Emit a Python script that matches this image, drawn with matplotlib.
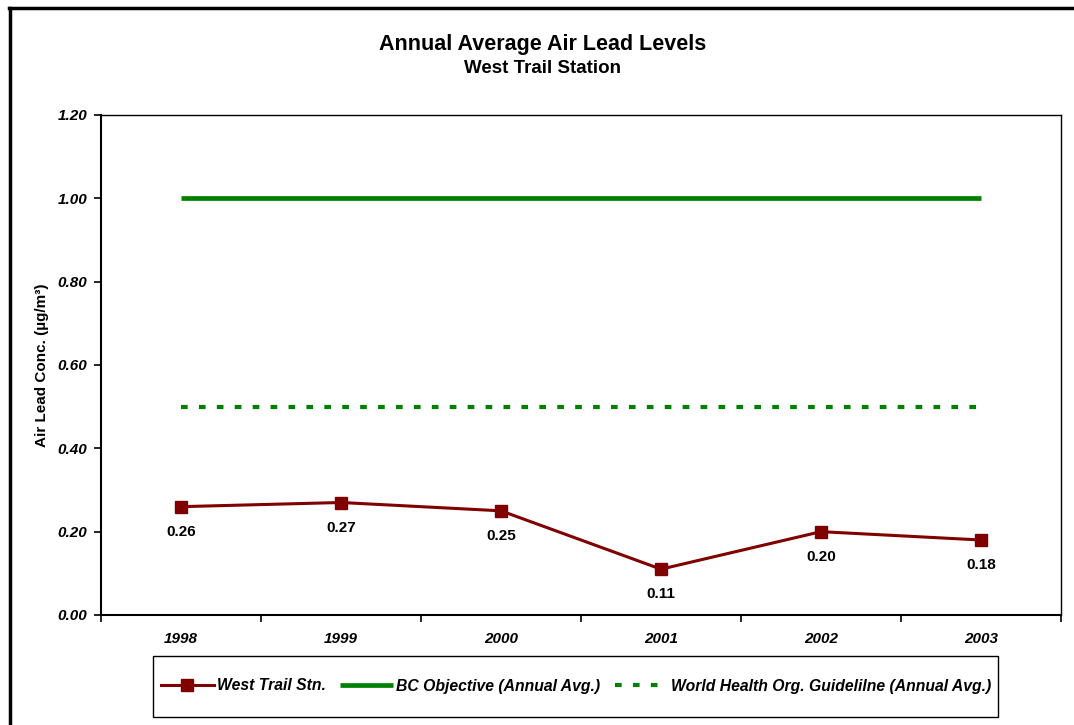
import matplotlib.pyplot as plt
from matplotlib.lines import Line2D
from matplotlib.patches import Rectangle

plt.rcParams['font.family'] = ['Liberation Sans', 'DejaVu Sans']

years = ['1998', '1999', '2000', '2001', '2002', '2003']
west_trail = [0.26, 0.27, 0.25, 0.11, 0.20, 0.18]
bc_objective = [1.00, 1.00, 1.00, 1.00, 1.00, 1.00]
who_guideline = [0.50, 0.50, 0.50, 0.50, 0.50, 0.50]
y_ticks = [0.00, 0.20, 0.40, 0.60, 0.80, 1.00, 1.20]

W, H = 1074, 725
fig = plt.figure(figsize=(W / 100, H / 100), dpi=100)
ax = fig.add_axes([101 / W, 1 - 615 / H, 960 / W, 500 / H])

x = list(range(1, len(years) + 1))
ln1, = ax.plot(x, west_trail, color='#800000', lw=2.2, marker='s', ms=8.5,
               label='West Trail Stn.')
ln2, = ax.plot(x, bc_objective, color='#008000', lw=3.4, solid_capstyle='butt',
               label='BC Objective (Annual Avg.)')
ln3, = ax.plot(x, who_guideline, color='#008000', lw=3, linestyle=(0, (1.6, 2.7)),
               label='World Health Org. Guidelilne (Annual Avg.)')

# value labels under each point
for xi, v in zip(x, west_trail):
    ax.annotate(f'{v:.2f}', (xi, v), xytext=(0, -18), textcoords='offset points',
                ha='center', va='center', fontsize=11, fontweight='bold')

ax.set_xlim(0.5, len(years) + 0.5)
ax.set_ylim(0, 1.2)
ax.set_yticks(y_ticks)
ax.set_yticklabels([f'{t:.2f}' for t in y_ticks], fontsize=11,
                   fontweight='bold', fontstyle='italic')
ax.set_xticks([i + 0.5 for i in range(len(years) + 1)])
ax.set_xticklabels([])
ax.set_xticks(x, minor=True)
ax.set_xticklabels(years, minor=True, fontsize=11, fontweight='bold',
                   fontstyle='italic')
ax.tick_params(axis='x', which='minor', length=0, pad=12)
ax.tick_params(axis='x', which='major', length=5, width=1.2, direction='out')
ax.tick_params(axis='y', length=5, width=1.2, direction='out', pad=5)

for side in ['left', 'bottom']:
    ax.spines[side].set_linewidth(1.5)
for side in ['top', 'right']:
    ax.spines[side].set_linewidth(1.0)

ax.set_ylabel('Air Lead Conc. (µg/m³)', fontsize=11, fontweight='bold',
              labelpad=6)

fig.text(543 / W, 1 - 50 / H, 'Annual Average Air Lead Levels',
         ha='center', va='baseline', fontsize=15.5, fontweight='bold')
fig.text(543 / W, 1 - 73 / H, 'West Trail Station',
         ha='center', va='baseline', fontsize=13.5, fontweight='bold')

# legend box drawn separately so padding can differ per side
fig.add_artist(Rectangle((153 / W, 1 - 717 / H), 845 / W, 61 / H,
                         transform=fig.transFigure, facecolor='white',
                         edgecolor='black', lw=1.0))
leg = fig.legend(handles=[ln1, ln2, ln3], ncol=3, loc='center',
                 bbox_to_anchor=(576 / W, 1 - 686 / H),
                 prop={'size': 11.3, 'weight': 'bold', 'style': 'italic'},
                 frameon=False, handlelength=3.4, handletextpad=0.2,
                 columnspacing=0.9, borderpad=0, borderaxespad=0)

# outer chart border
fig.add_artist(Line2D([9 / W, 1], [1 - 8 / H, 1 - 8 / H],
                      color='black', lw=2.5, transform=fig.transFigure))
fig.add_artist(Line2D([10 / W, 10 / W], [0, 1 - 8 / H],
                      color='black', lw=2.5, transform=fig.transFigure))

fig.savefig('out.png', dpi=100)
